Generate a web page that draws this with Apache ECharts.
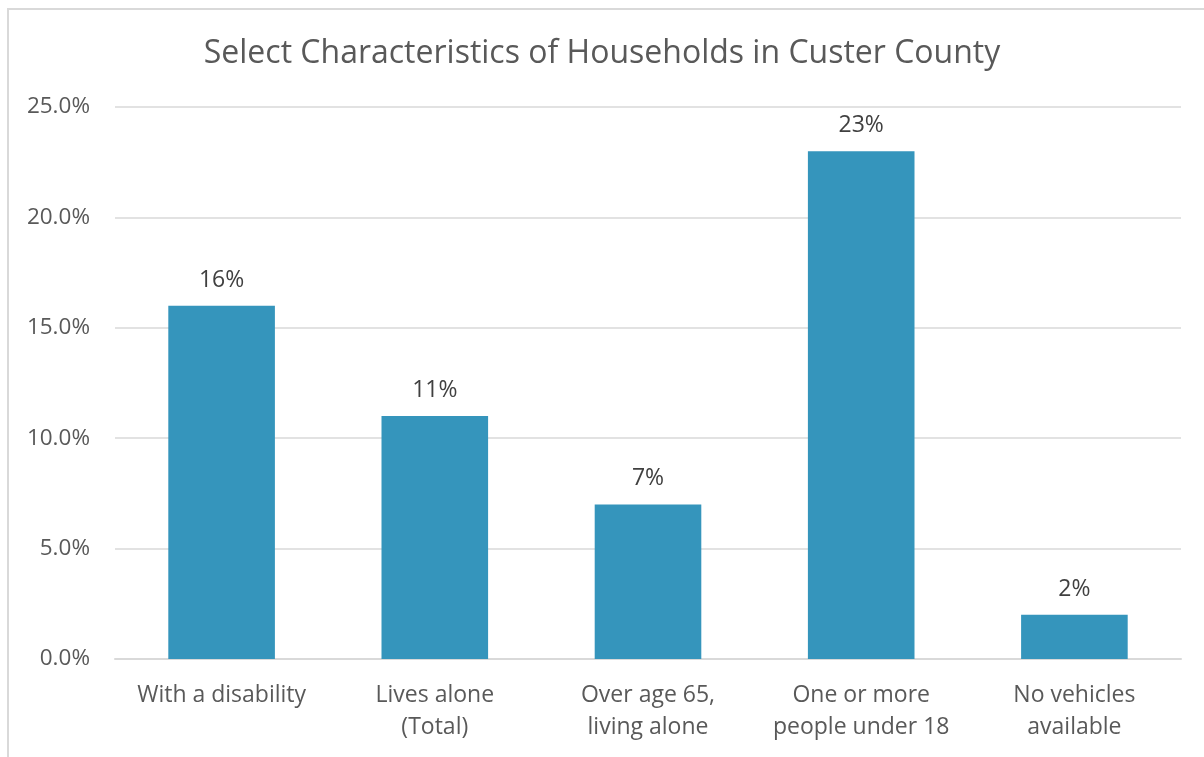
<!DOCTYPE html>
<html>
<head>
<meta charset="utf-8">
<script src="https://cdn.jsdelivr.net/npm/echarts@6/dist/echarts.min.js"></script>
<style>
  html, body { margin: 0; padding: 0; background: #fff; }
  #frame { position: absolute; left: 7px; top: 8px; width: 1197px; height: 749px;
           border-top: 2px solid #d9d9d9; border-left: 2px solid #d9d9d9; box-sizing: border-box; }
  #chart { position: absolute; left: 0; top: 0; width: 1204px; height: 757px; }
</style>
</head>
<body>
<div id="frame"></div>
<div id="chart"></div>
<script>
const titleText = 'Select Characteristics of Households in Custer County';
const categories = ['With a disability', 'Lives alone\n(Total)', 'Over age 65,\nliving alone', 'One or more\npeople under 18', 'No vehicles\navailable'];
const shares = [16, 11, 7, 23, 2];
const yMin = 0, yMax = 25, yStep = 5;

const FONT = '"Open Sans", "Liberation Sans", sans-serif';
const TEXT = '#595959';

const chart = echarts.init(document.getElementById('chart'), null, { renderer: 'canvas' });
chart.setOption({
  animation: false,
  title: {
    text: titleText,
    left: 'center',
    top: 33,
    textStyle: { fontFamily: FONT, fontSize: 32, fontWeight: 'normal', color: TEXT }
  },
  grid: { left: 115, right: 23, top: 107, bottom: 98, containLabel: false },
  xAxis: {
    type: 'category',
    data: categories,
    axisLine: { show: true, lineStyle: { color: '#d9d9d9', width: 2 } },
    axisTick: { show: false },
    axisLabel: { fontFamily: FONT, fontSize: 23, color: TEXT, margin: 20, lineHeight: 32, interval: 0 }
  },
  yAxis: {
    type: 'value',
    min: yMin, max: yMax, interval: yStep,
    axisLine: { show: false },
    axisTick: { show: false },
    splitLine: { lineStyle: { color: '#d9d9d9', width: 1.5 } },
    axisLabel: { fontFamily: FONT, fontSize: 22.5, color: TEXT, margin: 25,
                 formatter: v => v.toFixed(1) + '%' }
  },
  series: [{
    type: 'bar',
    data: shares,
    barWidth: '50%',
    itemStyle: { color: '#3595bc' },
    label: {
      show: true, position: 'top', distance: 14,
      fontFamily: FONT, fontSize: 23, color: '#404040',
      formatter: p => p.value + '%'
    }
  }]
});
</script>
</body>
</html>
